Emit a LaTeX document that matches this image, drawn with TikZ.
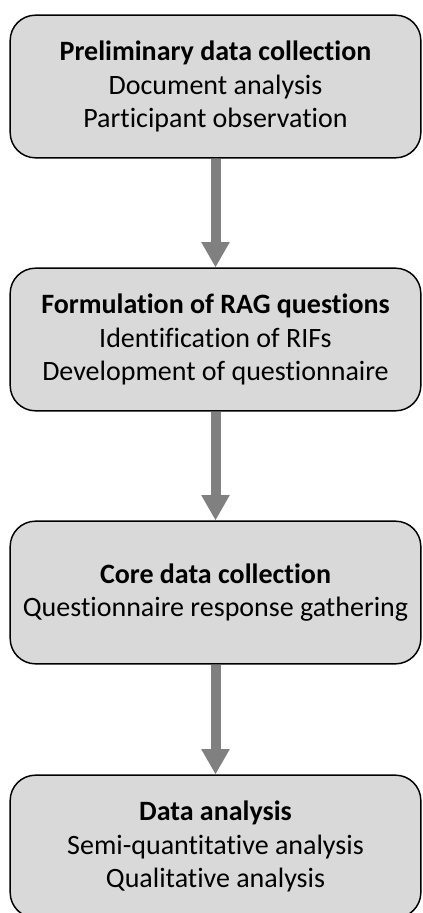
\documentclass[tikz,border=0pt]{standalone}
\usepackage{fontspec}
\setmainfont{Carlito}[Ligatures={NoCommon,NoRequired,NoContextual}]
\usetikzlibrary{arrows.meta}

\tikzset{
  stage/.style={draw=black, line width=1.1pt, fill=black!15, rounded corners=19pt,
    minimum width=308pt, minimum height=107pt, align=center,
    font=\fontsize{21}{25}\selectfont},
  flow/.style={draw=black!50, line width=7.5pt,
    -{Triangle[width=20pt,length=19pt]}}
}

\begin{document}
\begin{tikzpicture}[x=0.75pt,y=-0.75pt]
\useasboundingbox (0,0) rectangle (422,913);
\node[stage] (s1) at (215.5,86.5) {\textbf{Preliminary data collection}\\Document analysis\\Participant observation};
\node[stage] (s2) at (215.5,339.5) {\textbf{Formulation of RAG questions}\\Identification of RIFs\\Development of questionnaire};
\node[stage] (s3) at (215.5,592.5) {\textbf{Core data collection}\\Questionnaire response gathering};
\node[stage] (s4) at (215.5,846.5) {\textbf{Data analysis}\\Semi-quantitative analysis\\Qualitative analysis};
\draw[flow] (s1) -- (s2);
\draw[flow] (s2) -- (s3);
\draw[flow] (s3) -- (s4);
\end{tikzpicture}
\end{document}
